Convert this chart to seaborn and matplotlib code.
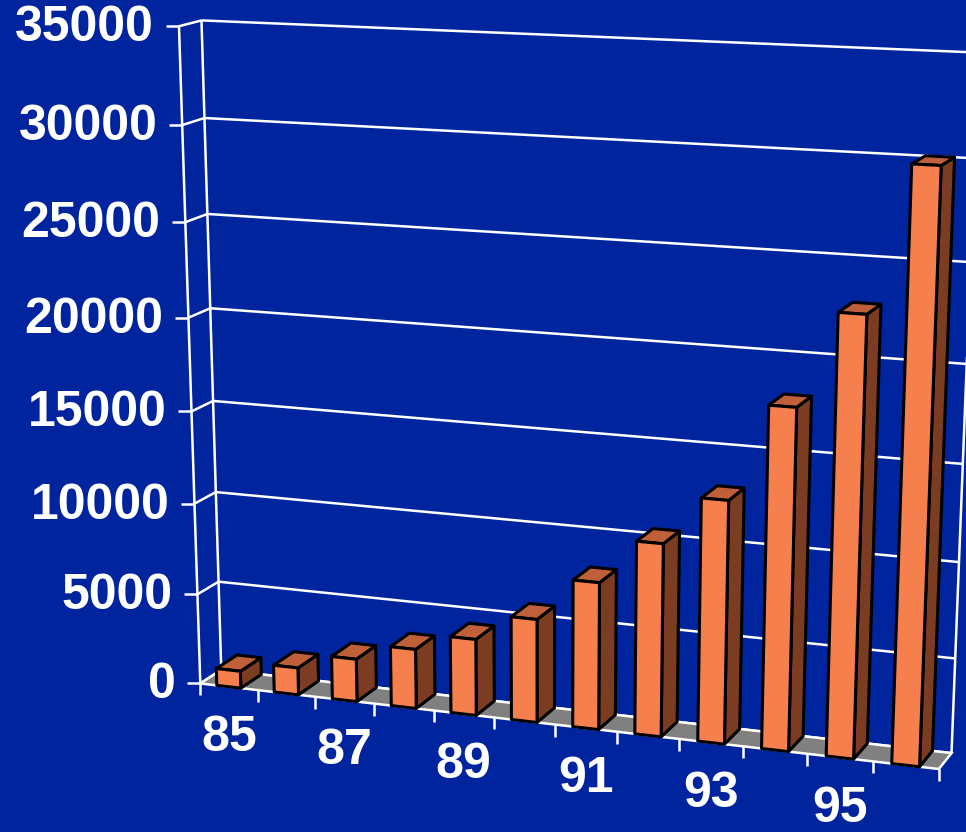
import numpy as np
import matplotlib
matplotlib.use("Agg")
import matplotlib.pyplot as plt
from matplotlib.transforms import Transform
import seaborn as sns

# ---------------- data ----------------
years = ["85", "86", "87", "88", "89", "90", "91", "92", "93", "94", "95", "96"]
values = [950, 1500, 2350, 3250, 4150, 5580, 7880, 10250, 12800, 17800, 22650, 30000]
y_ticks = [0, 5000, 10000, 15000, 20000, 25000, 30000, 35000]
x_tick_labels = ["85", "87", "89", "91", "93", "95"]

# ---------------- style ----------------
BG = "#00249E"
FRONT = "#F5804E"
TOP = "#C0603A"
SIDE = "#7B3C22"
FLOOR = "#808080"
BAR_W = 0.42
N = len(years)
YMAX = y_ticks[-1]

sns.set_theme(style="white")
plt.rcParams["font.family"] = ["Liberation Sans", "DejaVu Sans"]

# ---------------- perspective camera of the 3-D frame ----------------
# frame corners (category position, value, depth) -> pixel location in the picture
frame_world = np.array([
    [0, 0, 0], [0, YMAX, 0], [0, 0, 1], [0, YMAX, 1], [N, 0, 0], [N, 0, 1],
    [0, 15000, 0], [0, 15000, 1], [N, 30000, 1], [0, 30000, 1],
    [6, 0, 0], [3, 0, 0], [9, 0, 0]], dtype=float)
frame_px = np.array([
    [200.5, 682], [178, 27], [221, 672], [202, 21], [939, 770], [950.5, 752.5],
    [191, 412], [213, 400], [975, 158], [205, 117],
    [556, 724.4], [374, 702.7], [743, 746.7]], dtype=float)

W_SCALE = np.array([N, YMAX, 1.0])
P_SCALE = 1000.0


def fit_camera(world, px):
    Wn = world / W_SCALE
    Un = px / P_SCALE
    rows = []
    for (X, Y, Z), (u, v) in zip(Wn, Un):
        rows.append([X, Y, Z, 1, 0, 0, 0, 0, -u * X, -u * Y, -u * Z, -u])
        rows.append([0, 0, 0, 0, X, Y, Z, 1, -v * X, -v * Y, -v * Z, -v])
    _, _, vt = np.linalg.svd(np.asarray(rows))
    return vt[-1].reshape(3, 4)


CAM = fit_camera(frame_world, frame_px)


def project(X, Y, Z):
    X = np.atleast_1d(np.asarray(X, float))
    Y = np.atleast_1d(np.asarray(Y, float))
    Z = np.atleast_1d(np.asarray(Z, float))
    X, Y, Z = np.broadcast_arrays(X, Y, Z)
    h = CAM @ np.vstack([X / N, Y / YMAX, Z, np.ones_like(X)])
    return h[0] / h[2] * P_SCALE, h[1] / h[2] * P_SCALE


class PlaneTransform(Transform):
    """Maps seaborn's (category index, value) bar coordinates onto a depth plane."""
    input_dims = 2
    output_dims = 2
    is_separable = False
    has_inverse = False

    def __init__(self, plane_depth):
        super().__init__()
        self.plane_depth = plane_depth

    def transform_non_affine(self, values_):
        xy = np.asarray(values_, float).reshape(-1, 2)
        u, v = project(xy[:, 0] + 0.5, xy[:, 1], self.plane_depth)
        return np.column_stack([u, v])


# ---------------- figure ----------------
fig = plt.figure(figsize=(9.66, 8.32), dpi=100, facecolor=BG)
ax = fig.add_axes([0, 0, 1, 1])
ax.set_facecolor(BG)

LINE = dict(color="white", lw=1.8, solid_capstyle="butt", zorder=1)
FS = 36

# back wall and left wall grid lines
for t in y_ticks:
    u, v = project([0, N], [t, t], [1, 1])
    ax.plot(u, v, **LINE)
    u, v = project([0, 0], [t, t], [0, 1])
    ax.plot(u, v, **LINE)
    # y tick on the front-left edge
    u, v = project(0, t, 0)
    ax.plot([u[0] - 13, u[0]], [v[0], v[0]], **LINE)
    ax.text(u[0] - 25, v[0] + 2, f"{t}", ha="right", va="center", color="white",
            fontsize=FS, fontweight="bold")

# wall verticals
for (xw, zw) in [(0, 0), (0, 1), (N, 1)]:
    u, v = project([xw, xw], [0, YMAX], [zw, zw])
    ax.plot(u, v, **LINE)

# floor
u, v = project([0, N, N, 0], [0, 0, 0, 0], [0, 0, 1, 1])
ax.fill(u, v, facecolor=FLOOR, edgecolor="white", lw=1.8, zorder=2)

# x ticks below the floor front edge
for k in range(N + 1):
    u, v = project(k, 0, 0)
    ax.plot([u[0], u[0]], [v[0], v[0] + 12], **LINE)

# x tick labels
for lab in x_tick_labels:
    i = years.index(lab)
    u, v = project(i + 0.5, 0, 0)
    ax.text(u[0], v[0] + 51, lab, ha="center", va="center", color="white",
            fontsize=FS, fontweight="bold")

# side and top faces of the columns
EDGE_LW = 2.2
for i, val in enumerate(values):
    xl = i + 0.5 - BAR_W / 2
    xr = i + 0.5 + BAR_W / 2
    u, v = project([xr, xr, xr, xr], [0, 0, val, val], [0, 1, 1, 0])
    ax.fill(u, v, facecolor=SIDE, edgecolor="black", lw=EDGE_LW, joinstyle="round", zorder=3)
    u, v = project([xl, xr, xr, xl], [val, val, val, val], [0, 0, 1, 1])
    ax.fill(u, v, facecolor=TOP, edgecolor="black", lw=EDGE_LW, joinstyle="round", zorder=3)

# front faces of the columns: seaborn bars projected onto the front plane
n_before = len(ax.patches)
sns.barplot(x=years, y=values, color=FRONT, saturation=1, width=BAR_W,
            edgecolor="black", linewidth=EDGE_LW, ax=ax, zorder=4)
front_tr = PlaneTransform(0.0) + ax.transData
for p in ax.patches[n_before:]:
    p.set_transform(front_tr)
    p.set_joinstyle("round")

ax.set_xlim(0, 966)
ax.set_ylim(832, 0)
ax.axis("off")

fig.savefig("out.png", dpi=100, facecolor=BG)
